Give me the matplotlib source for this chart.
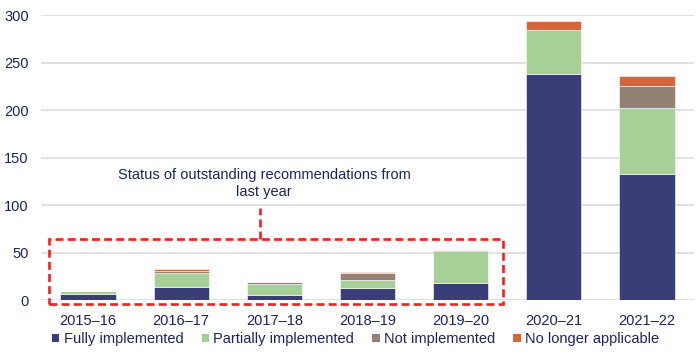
import matplotlib
matplotlib.use("Agg")
import matplotlib.pyplot as plt
from matplotlib.patches import Rectangle, Patch

plt.rcParams["font.family"] = ["Liberation Sans", "DejaVu Sans"]

years = ["2015–16", "2016–17", "2017–18", "2018–19", "2019–20", "2020–21", "2021–22"]
fully = [6, 14, 5, 13, 18, 238, 133]
partially = [3, 14, 12, 8, 34, 46, 69]
not_impl = [0, 3, 2, 7, 1, 0, 23]
no_longer = [0, 2, 0, 1, 0, 10, 11]

series = [
    ("Fully implemented", fully, "#393e78"),
    ("Partially implemented", partially, "#a7d097"),
    ("Not implemented", not_impl, "#948176"),
    ("No longer applicable", no_longer, "#d6653a"),
]

TEXT = "#1c2460"
RED = "#ff1a1a"

fig = plt.figure(figsize=(7.0, 3.54), dpi=100)
ax = fig.add_axes([0.0591, 0.1525, 0.9318, 0.8051])

x = list(range(len(years)))
bottom = [0] * len(years)
for name, vals, col in series:
    ax.bar(x, vals, width=0.593, bottom=bottom, color=col, edgecolor="white",
           linewidth=0.4, label=name, zorder=3)
    bottom = [b + v for b, v in zip(bottom, vals)]

ax.set_xlim(-0.5, 6.5)
ax.set_ylim(0, 300)
ax.set_yticks(range(0, 301, 50))
ax.set_xticks(x)
ax.set_xticklabels(years)
ax.grid(axis="y", color="#d9d9d9", linewidth=1.1, zorder=0)
ax.set_axisbelow(True)
for s in ax.spines.values():
    s.set_visible(False)
ax.tick_params(axis="both", length=0, labelsize=10.5, colors=TEXT)
ax.tick_params(axis="y", pad=9)
ax.tick_params(axis="x", pad=10)

# dashed box around the earlier years
ax.add_patch(Rectangle((-0.418, -4.2), 4.868, 68.1, fill=False, edgecolor=RED,
                       linewidth=1.9, linestyle=(0, (3, 1.6)), clip_on=False, zorder=5))
ax.plot([1.842, 1.842], [63.9, 97], color=RED, linewidth=1.9,
        linestyle=(0, (3, 1.6)), zorder=5)
ax.text(1.89, 122.6, "Status of outstanding recommendations from\nlast year",
        ha="center", va="center", multialignment="center", fontsize=10.5,
        color=TEXT, linespacing=1.25, zorder=6)

handles = [Patch(facecolor=c, edgecolor="none", label=n) for n, _, c in series]
fig.legend(handles=handles, loc="center", bbox_to_anchor=(0.508, 0.042), ncol=4,
           frameon=False, fontsize=10.5, handlelength=0.5, handleheight=0.55,
           handletextpad=0.3, columnspacing=1.25, labelcolor=TEXT,
           borderaxespad=0, borderpad=0)

fig.savefig("out.png", dpi=100)
